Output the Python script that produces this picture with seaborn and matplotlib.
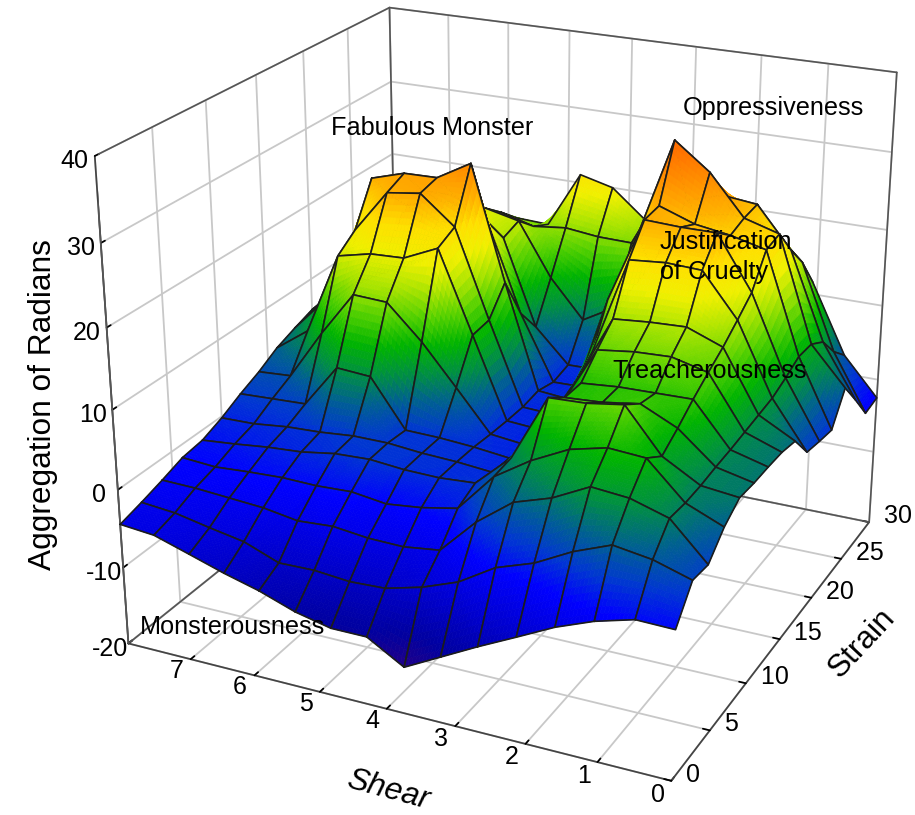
import numpy as np
import matplotlib
matplotlib.use('Agg')
import matplotlib.pyplot as plt
import seaborn as sns

sns.set_theme(style='white')
plt.rcParams['font.family'] = ['Liberation Sans', 'DejaVu Sans']
plt.rcParams['grid.color'] = '#c8c8c8'
plt.rcParams['grid.linewidth'] = 1.3
plt.rcParams['axes.unicode_minus'] = False
plt.rcParams['text.color'] = 'black'

# Data
shear = [8, 7.47, 6.93, 6.4, 5.87, 5.33, 4.8, 4.27, 3.73, 3.2, 2.67, 2.13, 1.6, 1.07, 0.53, 0]
strain = [0, 2, 4, 6, 8, 10, 12, 14, 16, 18, 20, 22, 24, 26, 28, 30]

# radians per shear column, going through strain
col_00 = [-4.4,-3.6,-2.7,-1.7,-1.3,-0.2,1.2,2.4,3.9,4.9,5.8,5.5,5.3,5.1,5,4.9]
col_01 = [-4.8,-4,-2.8,-2,-0.9,-0.1,1.4,2.7,7,9.5,10,9.1,8.2,7.3,6.5,5.6]
col_02 = [-6.2,-4.9,-3.1,-1.7,-0.4,0.4,1.6,9.2,17.7,19.6,24.9,21.3,18.5,15.7,13.5,11.4]
col_03 = [-7.6,-5.7,-3.4,-1.5,-0.1,0.6,7.2,15,18.7,25.1,26.2,22.6,19.9,17.8,15.6,14.2]
col_04 = [-8.8,-7.4,-4.1,-1.6,0.6,1,6.9,14.8,18.9,25.7,26.3,22.6,19.9,18,16,13.8]
col_05 = [-10.4,-7.3,-3.8,-1.4,0.8,1,0.8,10.5,20.9,22.1,28.8,19.8,16.2,17,14.8,13.6]
col_06 = [-11.4,-7.7,-4.3,-2,0.4,0.6,0.7,5.4,10.5,10.8,14.1,8.4,4.9,10,15.3,21.1]
col_07 = [-11.4,-7.5,-4.4,-1.5,0.3,0.4,0.4,0.2,0.1,0.1,0.5,-0.1,0.5,5,14.8,20]
col_08 = [-14.1,-6.3,-3.8,-0.6,0.6,0,-0.1,-0.3,-0.2,-0.1,0.1,0,0.6,7.6,14.7,16.3]
col_09 = [-11.7,-4.6,0.7,4.3,4.7,3.1,2.5,5.8,7.2,9.1,14.2,16.5,19.5,14,15.1,14.3]
col_10 = [-9.3,-1.8,4.1,7.2,13,11.2,11.2,13.6,15.8,21.6,25.1,25.4,32.3,23.3,19.9,17.1]
col_11 = [-7,-0.2,5.6,9.5,13.2,11.5,11.6,14.2,16.2,22,24.9,23.8,28.9,24.6,20.6,17.1]
col_12 = [-4.7,2.2,7.9,10.6,13.9,12.2,11.7,14.4,16.4,21.8,24.9,23.1,23.8,24.1,20,15.8]
col_13 = [-2.9,4,7.5,10.3,8.6,10.1,11.8,13.3,14.7,16.4,18.2,22,22.5,18.9,15.8,11.6]
col_14 = [-1.6,3.3,6.1,5.9,6,6.3,6.5,6.8,7.1,7.4,8.2,9.2,9.1,7.7,4.7,2.5]
col_15 = [-1.7,1.9,1.6,4,5.5,5.3,5.3,5.2,4.7,1.4,0.9,0.5,4.2,0.8,-2.8,-2.5]

Z = np.array([col_00, col_01, col_02, col_03, col_04, col_05, col_06, col_07,
              col_08, col_09, col_10, col_11, col_12, col_13, col_14, col_15])
XX, YY = np.meshgrid(shear, strain, indexing='ij')

shear_ticks = [0, 1, 2, 3, 4, 5, 6, 7, 8]
shear_labels = ['0', '1', '2', '3', '4', '5', '6', '7', '']
strain_ticks = [0, 5, 10, 15, 20, 25, 30]
strain_labels = ['  0', '  5', '  10', '  15', '  20', '  25', '  30']
radian_ticks = [-20, -10, 0, 10, 20, 30, 40]

fig = plt.figure(figsize=(9.15, 8.15), dpi=100)
ax = fig.add_axes([0.0521, 0.0506, 1, 1], projection='3d')
ax.view_init(elev=22.98, azim=-64.58)
ax.set_proj_type('persp', focal_length=0.5688)
ax.set_box_aspect((1.1425, 1.1234, 1), zoom=1.1416)
ax.computed_zorder = False

ax.set_xticks(shear_ticks)
ax.set_xticklabels(shear_labels)
ax.set_yticks(strain_ticks)
ax.set_yticklabels(strain_labels)
ax.set_zticks(radian_ticks)
ax.tick_params(labelsize=18, colors='black')
ax.tick_params(axis='x', pad=0)
ax.tick_params(axis='y', pad=-7.5)
ax.tick_params(axis='z', pad=-1)
ax.zaxis.set_ticks_position('lower')
for lab in ax.get_xticklabels():
    lab.set_ha('right')
    lab.set_va('baseline')
for lab in ax.get_yticklabels():
    lab.set_ha('left')
    lab.set_va('baseline')
for lab in ax.get_zticklabels():
    lab.set_va('center_baseline')
for a in (ax.xaxis, ax.yaxis, ax.zaxis):
    a.set_pane_color((1, 1, 1, 1))
    a.line.set_color('#444444')
    a._axinfo['tick']['inward_factor'] = 0.0
    a._axinfo['tick']['outward_factor'] = 0.15
    a._axinfo['tick']['color'] = '#444444'

anchors = ['#400070', '#300078', '#200088', '#0000a0', '#0000c0', '#0000e0', '#0000ff', '#0038d0', '#006090', '#009040',
           '#00b400', '#50d000', '#a8e400', '#f0f000', '#ffe000', '#ffb000', '#ff9000', '#ff7400', '#ff6000', '#ff6000',
           '#ff6000']
cmap = sns.blend_palette(anchors, n_colors=256, as_cmap=True)
norm = plt.Normalize(-20, 40)

# box edges on top of the grid
for xs, ys, zs in [((8, 8), (0, 30), (-20, -20)), ((8, 0), (30, 30), (-20, -20)), ((8, 8), (0, 0), (-20, 40)),
                   ((8, 8), (30, 30), (-20, 40)), ((0, 0), (30, 30), (-20, 40)), ((8, 8), (0, 30), (40, 40)),
                   ((8, 0), (30, 30), (40, 40))]:
    ax.plot(xs, ys, zs, color='#555555', lw=1.2, zorder=0.5)

# cells back to front, each one split up only to get a smooth colour gradient
t = np.linspace(0, 1, 11)
u, v = np.meshgrid(t, t, indexing='ij')
order = 1
for r in range(14, -1, -1):
    for c in range(15):
        def blend(A):
            return A[c, r]*(1-u)*(1-v) + A[c+1, r]*u*(1-v) + A[c, r+1]*(1-u)*v + A[c+1, r+1]*u*v
        cx, cy, cz = blend(XX), blend(YY), blend(Z)
        mid = (cz[:-1, :-1] + cz[1:, :-1] + cz[:-1, 1:] + cz[1:, 1:]) / 4
        ax.plot_surface(cx, cy, cz, facecolors=cmap(norm(mid)), rstride=1, cstride=1, shade=False,
                        linewidth=0.5, antialiased=True, zorder=order)
        ring = [(c, r), (c+1, r), (c+1, r+1), (c, r+1), (c, r)]
        ax.plot([XX[i] for i in ring], [YY[i] for i in ring], [Z[i] for i in ring],
                color='#1c1c1c', lw=1.2, zorder=order + 0.5)
        order += 1

ax.set_xlim(8, 0, view_margin=0)
ax.set_ylim(0, 30, view_margin=0)
ax.set_zlim(-20, 40, view_margin=0)


def px_text(x, y, s, **kw):
    fig.text(x / 915, 1 - y / 815, s, color='black', ha=kw.pop('ha', 'left'), va='center', **kw)


px_text(43, 405, 'Aggregation of Radians', fontsize=22.8, rotation=90, ha='center')
px_text(388, 790, 'Shear', fontsize=22.8, rotation=-15, style='italic', ha='center', rotation_mode='anchor')
px_text(862, 643, 'Strain', fontsize=22.8, rotation=47, ha='center', rotation_mode='anchor')
px_text(331, 128, 'Fabulous Monster', fontsize=18.2)
px_text(683, 108, 'Oppressiveness', fontsize=18.2)
px_text(660, 242, 'Justification', fontsize=18.2)
px_text(660, 272, 'of Cruelty', fontsize=18.2)
px_text(612, 371, 'Treacherousness', fontsize=18.2)
px_text(140, 627, 'Monsterousness', fontsize=18.2)

fig.savefig('out.png', dpi=100)
